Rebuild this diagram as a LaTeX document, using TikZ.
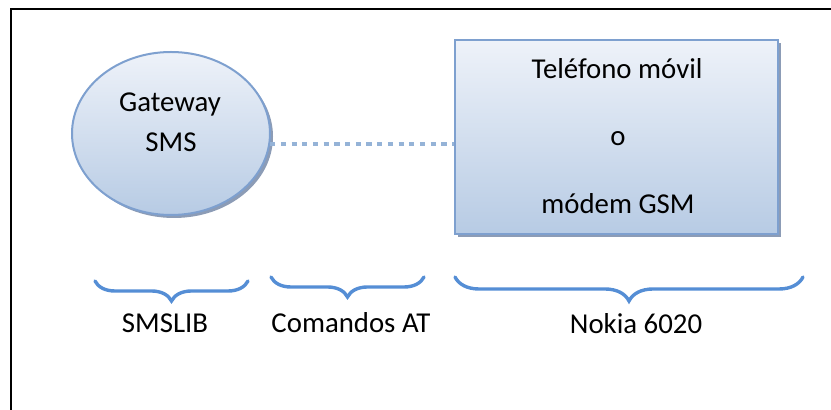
\documentclass[tikz,border=0pt]{standalone}
\usepackage{fontspec}
\setmainfont{Carlito}
\usetikzlibrary{shapes.geometric,shadows,decorations.pathreplacing}
\definecolor{edgeblue}{RGB}{126,160,207}
\definecolor{filltop}{RGB}{238,242,249}
\definecolor{fillbot}{RGB}{183,203,228}
\definecolor{shadowc}{RGB}{140,156,182}
\definecolor{linkblue}{RGB}{149,179,215}
\definecolor{braceblue}{RGB}{85,142,213}
\begin{document}
\begin{tikzpicture}[x=0.5pt,y=-0.5pt,
  every node/.style={font=\fontsize{14.4}{17}\selectfont, text=black},
  blockshade/.style={draw=edgeblue, line width=1pt, top color=filltop, bottom color=fillbot,
    drop shadow={shadow xshift=1.5pt, shadow yshift=-1.5pt, fill=shadowc, opacity=1}},
  gwshape/.style={blockshade, ellipse, inner sep=0pt, minimum width=99pt, minimum height=81.5pt},
  phshape/.style={blockshade, rectangle, inner sep=0pt, minimum width=161.5pt, minimum height=97pt},
  txt/.style={anchor=base, inner sep=0pt},
  link/.style={draw=linkblue, line width=2.4pt, line cap=butt, dash pattern=on 2.6pt off 2.75pt},
  curly/.style={draw=braceblue, line width=1.7pt, line cap=round,
    decorate, decoration={brace, mirror, amplitude=#1}}
]
\useasboundingbox (0,0) rectangle (831,410);

% outer frame, running off the right and bottom edges
\begin{scope}
  \clip (0,0) rectangle (831,410);
  \draw[line width=1.2pt] (11,9) rectangle (860,440);
\end{scope}

% gateway ellipse
\node[gwshape] (gw) at (171,133.5) {};
\node[txt] (gwa) at (170,112) {Gateway};
\node[txt] (gwb) at (171,152) {SMS};

% phone / modem box
\node[phshape] (ph) at (616.5,137) {};
\node[txt] (pha) at (617,79) {Teléfono móvil};
\node[txt] (phb) at (618,146) {o};
\node[txt] (phc) at (618,214) {módem GSM};

% AT command link
\draw[link] (gw.-6) -- (gw.-6 -| ph.west);

% braces and their labels
\coordinate (b1l) at (95,281);  \coordinate (b1r) at (248,281);
\coordinate (b2l) at (271,277); \coordinate (b2r) at (424,277);
\coordinate (b3l) at (455,277); \coordinate (b3r) at (803,277);
\draw[curly=10pt] (b1l) -- (b1r);
\draw[curly=10pt] (b2l) -- (b2r);
\draw[curly=12pt] (b3l) -- (b3r);

\node[txt] (l1) at (165,333) {SMSLIB};
\node[txt] (l2) at (351,333) {Comandos AT};
\node[txt] (l3) at (636,334) {Nokia 6020};
\end{tikzpicture}
\end{document}
